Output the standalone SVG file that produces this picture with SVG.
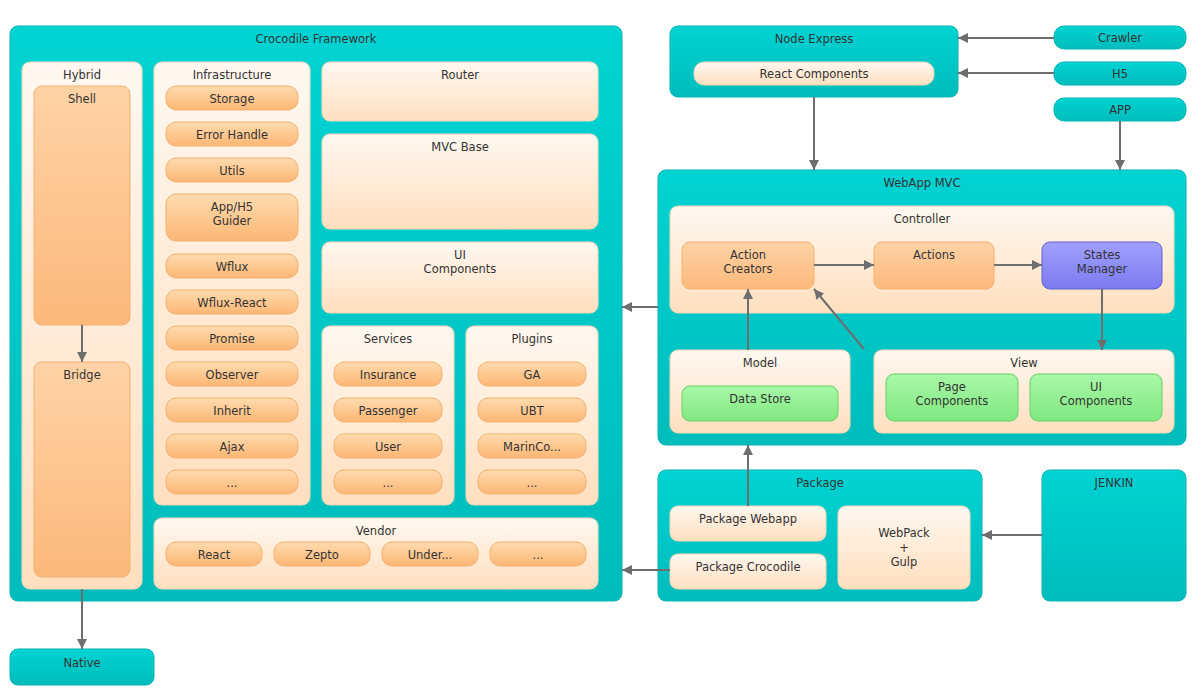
<svg xmlns="http://www.w3.org/2000/svg" width="1197" height="696" viewBox="0 0 1197 696">
<defs>
<linearGradient id="gTeal" x1="0" y1="0" x2="0" y2="1"><stop offset="0" stop-color="#00d3d3"/><stop offset="1" stop-color="#00bcbc"/></linearGradient>
<linearGradient id="gLight" x1="0" y1="0" x2="0" y2="1"><stop offset="0" stop-color="#fff8f0"/><stop offset="1" stop-color="#ffdfbf"/></linearGradient>
<linearGradient id="gOrange" x1="0" y1="0" x2="0" y2="1"><stop offset="0" stop-color="#ffdcb0"/><stop offset="1" stop-color="#fcb674"/></linearGradient>
<linearGradient id="gBig" x1="0" y1="0" x2="0" y2="1"><stop offset="0" stop-color="#ffd3a6"/><stop offset="1" stop-color="#fcb87a"/></linearGradient>
<linearGradient id="gGreen" x1="0" y1="0" x2="0" y2="1"><stop offset="0" stop-color="#a8f8a8"/><stop offset="1" stop-color="#80e880"/></linearGradient>
<linearGradient id="gBlue" x1="0" y1="0" x2="0" y2="1"><stop offset="0" stop-color="#a0a0ff"/><stop offset="1" stop-color="#7a7af0"/></linearGradient>
<marker id="arr" viewBox="0 0 10 10" refX="10" refY="5" markerWidth="10" markerHeight="10" markerUnits="userSpaceOnUse" orient="auto"><path d="M0,0 L10,5 L0,10 z" fill="#6e6e6e"/></marker>
</defs>
<style>
text{font-family:"DejaVu Sans",Verdana,sans-serif;font-size:11.5px;fill:#333;text-anchor:middle}
.teal{fill:url(#gTeal);stroke:#00b3b3;stroke-width:1}
.light{fill:url(#gLight);stroke:#f8d8b8;stroke-width:1}
.or{fill:url(#gOrange);stroke:#f4b070;stroke-width:1}
.big{fill:url(#gBig);stroke:#f4b070;stroke-width:1}
.green{fill:url(#gGreen);stroke:#66d066;stroke-width:1}
.blue{fill:url(#gBlue);stroke:#6060d0;stroke-width:1}
.c{stroke:#6e6e6e;stroke-width:2;fill:none;marker-end:url(#arr)}
</style>
<rect width="1197" height="696" fill="#ffffff"/>

<g id="crocodile">
<rect class="teal" x="10" y="26" width="612" height="575" rx="8"/>
<text x="316" y="43">Crocodile Framework</text>
</g>
<g id="hybrid">
<rect class="light" x="22" y="62" width="120" height="527" rx="8"/>
<text x="82" y="79">Hybrid</text>
</g>
<g id="shell"><rect class="big" x="34" y="86" width="96" height="239" rx="8"/><text x="82" y="103">Shell</text></g>
<g id="bridge"><rect class="big" x="34" y="362" width="96" height="215" rx="8"/><text x="82" y="379">Bridge</text></g>

<g id="infrastructure">
<rect class="light" x="154" y="62" width="156" height="443" rx="8"/>
<text x="232" y="79">Infrastructure</text>
</g>
<g id="storage"><rect class="or" x="166" y="86" width="132" height="24" rx="10"/><text x="232" y="103">Storage</text></g>
<g id="errorhandle"><rect class="or" x="166" y="122" width="132" height="24" rx="10"/><text x="232" y="139">Error Handle</text></g>
<g id="utils"><rect class="or" x="166" y="158" width="132" height="24" rx="10"/><text x="232" y="175">Utils</text></g>
<g id="guider"><rect class="or" x="166" y="194" width="132" height="47" rx="10"/><text x="232" y="211">App/H5</text><text x="232" y="225">Guider</text></g>
<g id="wflux"><rect class="or" x="166" y="254" width="132" height="24" rx="10"/><text x="232" y="271">Wflux</text></g>
<g id="wfluxreact"><rect class="or" x="166" y="290" width="132" height="24" rx="10"/><text x="232" y="307">Wflux-React</text></g>
<g id="promise"><rect class="or" x="166" y="326" width="132" height="24" rx="10"/><text x="232" y="343">Promise</text></g>
<g id="observer"><rect class="or" x="166" y="362" width="132" height="24" rx="10"/><text x="232" y="379">Observer</text></g>
<g id="inherit"><rect class="or" x="166" y="398" width="132" height="24" rx="10"/><text x="232" y="415">Inherit</text></g>
<g id="ajax"><rect class="or" x="166" y="434" width="132" height="24" rx="10"/><text x="232" y="451">Ajax</text></g>
<g id="infra-more"><rect class="or" x="166" y="470" width="132" height="24" rx="10"/><text x="232" y="487">...</text></g>

<g id="router"><rect class="light" x="322" y="62" width="276" height="59" rx="8"/><text x="460" y="79">Router</text></g>
<g id="mvcbase"><rect class="light" x="322" y="134" width="276" height="95" rx="8"/><text x="460" y="151">MVC Base</text></g>
<g id="uicomponents"><rect class="light" x="322" y="242" width="276" height="71" rx="8"/><text x="460" y="259">UI</text><text x="460" y="273">Components</text></g>

<g id="services"><rect class="light" x="322" y="326" width="132" height="179" rx="8"/><text x="388" y="343">Services</text></g>
<g id="insurance"><rect class="or" x="334" y="362" width="108" height="24" rx="10"/><text x="388" y="379">Insurance</text></g>
<g id="passenger"><rect class="or" x="334" y="398" width="108" height="24" rx="10"/><text x="388" y="415">Passenger</text></g>
<g id="user"><rect class="or" x="334" y="434" width="108" height="24" rx="10"/><text x="388" y="451">User</text></g>
<g id="services-more"><rect class="or" x="334" y="470" width="108" height="24" rx="10"/><text x="388" y="487">...</text></g>

<g id="plugins"><rect class="light" x="466" y="326" width="132" height="179" rx="8"/><text x="532" y="343">Plugins</text></g>
<g id="ga"><rect class="or" x="478" y="362" width="108" height="24" rx="10"/><text x="532" y="379">GA</text></g>
<g id="ubt"><rect class="or" x="478" y="398" width="108" height="24" rx="10"/><text x="532" y="415">UBT</text></g>
<g id="marinco"><rect class="or" x="478" y="434" width="108" height="24" rx="10"/><text x="532" y="451">MarinCo...</text></g>
<g id="plugins-more"><rect class="or" x="478" y="470" width="108" height="24" rx="10"/><text x="532" y="487">...</text></g>

<g id="vendor"><rect class="light" x="154" y="518" width="444" height="71" rx="8"/><text x="376" y="535">Vendor</text></g>
<g id="react"><rect class="or" x="166" y="542" width="96" height="24" rx="10"/><text x="214" y="559">React</text></g>
<g id="zepto"><rect class="or" x="274" y="542" width="96" height="24" rx="10"/><text x="322" y="559">Zepto</text></g>
<g id="under"><rect class="or" x="382" y="542" width="96" height="24" rx="10"/><text x="430" y="559">Under...</text></g>
<g id="vendor-more"><rect class="or" x="490" y="542" width="96" height="24" rx="10"/><text x="538" y="559">...</text></g>

<g id="native"><rect class="teal" x="10" y="649" width="144" height="36" rx="8"/><text x="82" y="667">Native</text></g>

<g id="nodeexpress">
<rect class="teal" x="670" y="26" width="288" height="71" rx="8"/>
<text x="814" y="43">Node Express</text>
</g>
<g id="reactcomponents"><rect class="light" x="694" y="62" width="240" height="23" rx="10"/><text x="814" y="78">React Components</text></g>

<g id="crawler"><rect class="teal" x="1054" y="26" width="132" height="23" rx="10"/><text x="1120" y="42">Crawler</text></g>
<g id="h5"><rect class="teal" x="1054" y="62" width="132" height="23" rx="10"/><text x="1120" y="78">H5</text></g>
<g id="app"><rect class="teal" x="1054" y="98" width="132" height="23" rx="10"/><text x="1120" y="114">APP</text></g>

<g id="webappmvc">
<rect class="teal" x="658" y="170" width="528" height="275" rx="8"/>
<text x="922" y="187">WebApp MVC</text>
</g>
<g id="controller"><rect class="light" x="670" y="206" width="504" height="107" rx="8"/><text x="922" y="223">Controller</text></g>
<g id="actioncreators"><rect class="big" x="682" y="242" width="132" height="47" rx="8"/><text x="748" y="259">Action</text><text x="748" y="273">Creators</text></g>
<g id="actions"><rect class="big" x="874" y="242" width="120" height="47" rx="8"/><text x="934" y="259">Actions</text></g>
<g id="statesmanager"><rect class="blue" x="1042" y="242" width="120" height="47" rx="8"/><text x="1102" y="259">States</text><text x="1102" y="273">Manager</text></g>
<g id="model"><rect class="light" x="670" y="350" width="180" height="83" rx="8"/><text x="760" y="367">Model</text></g>
<g id="datastore"><rect class="green" x="682" y="386" width="156" height="35" rx="8"/><text x="760" y="403">Data Store</text></g>
<g id="view"><rect class="light" x="874" y="350" width="300" height="83" rx="8"/><text x="1024" y="367">View</text></g>
<g id="pagecomponents"><rect class="green" x="886" y="374" width="132" height="47" rx="8"/><text x="952" y="391">Page</text><text x="952" y="405">Components</text></g>
<g id="viewuicomponents"><rect class="green" x="1030" y="374" width="132" height="47" rx="8"/><text x="1096" y="391">UI</text><text x="1096" y="405">Components</text></g>

<g id="package">
<rect class="teal" x="658" y="470" width="324" height="131" rx="8"/>
<text x="820" y="487">Package</text>
</g>
<g id="packagewebapp"><rect class="light" x="670" y="506" width="156" height="35" rx="8"/><text x="748" y="523">Package Webapp</text></g>
<g id="packagecrocodile"><rect class="light" x="670" y="554" width="156" height="35" rx="8"/><text x="748" y="571">Package Crocodile</text></g>
<g id="webpackgulp"><rect class="light" x="838" y="506" width="132" height="83" rx="8"/><text x="904" y="537">WebPack</text><text x="904" y="552">+</text><text x="904" y="566">Gulp</text></g>

<g id="jenkin"><rect class="teal" x="1042" y="470" width="144" height="131" rx="8"/><text x="1114" y="487">JENKIN</text></g>

<g id="connectors">
<line class="c" x1="82" y1="325" x2="82" y2="362"/>
<line class="c" x1="82" y1="589" x2="82" y2="649"/>
<line class="c" x1="1054" y1="38" x2="958" y2="38"/>
<line class="c" x1="1054" y1="73" x2="958" y2="73"/>
<line class="c" x1="1120" y1="121" x2="1120" y2="170"/>
<line class="c" x1="814" y1="97" x2="814" y2="170"/>
<line class="c" x1="814" y1="265" x2="874" y2="265"/>
<line class="c" x1="994" y1="265" x2="1042" y2="265"/>
<line class="c" x1="1102" y1="289" x2="1102" y2="350"/>
<line class="c" x1="748" y1="350" x2="748" y2="289"/>
<line class="c" x1="864" y1="349" x2="814" y2="289"/>
<line class="c" x1="658" y1="307" x2="622" y2="307"/>
<line class="c" x1="748" y1="506" x2="748" y2="445"/>
<line class="c" x1="670" y1="570" x2="622" y2="570"/>
<line class="c" x1="1042" y1="535" x2="982" y2="535"/>
</g>
</svg>
